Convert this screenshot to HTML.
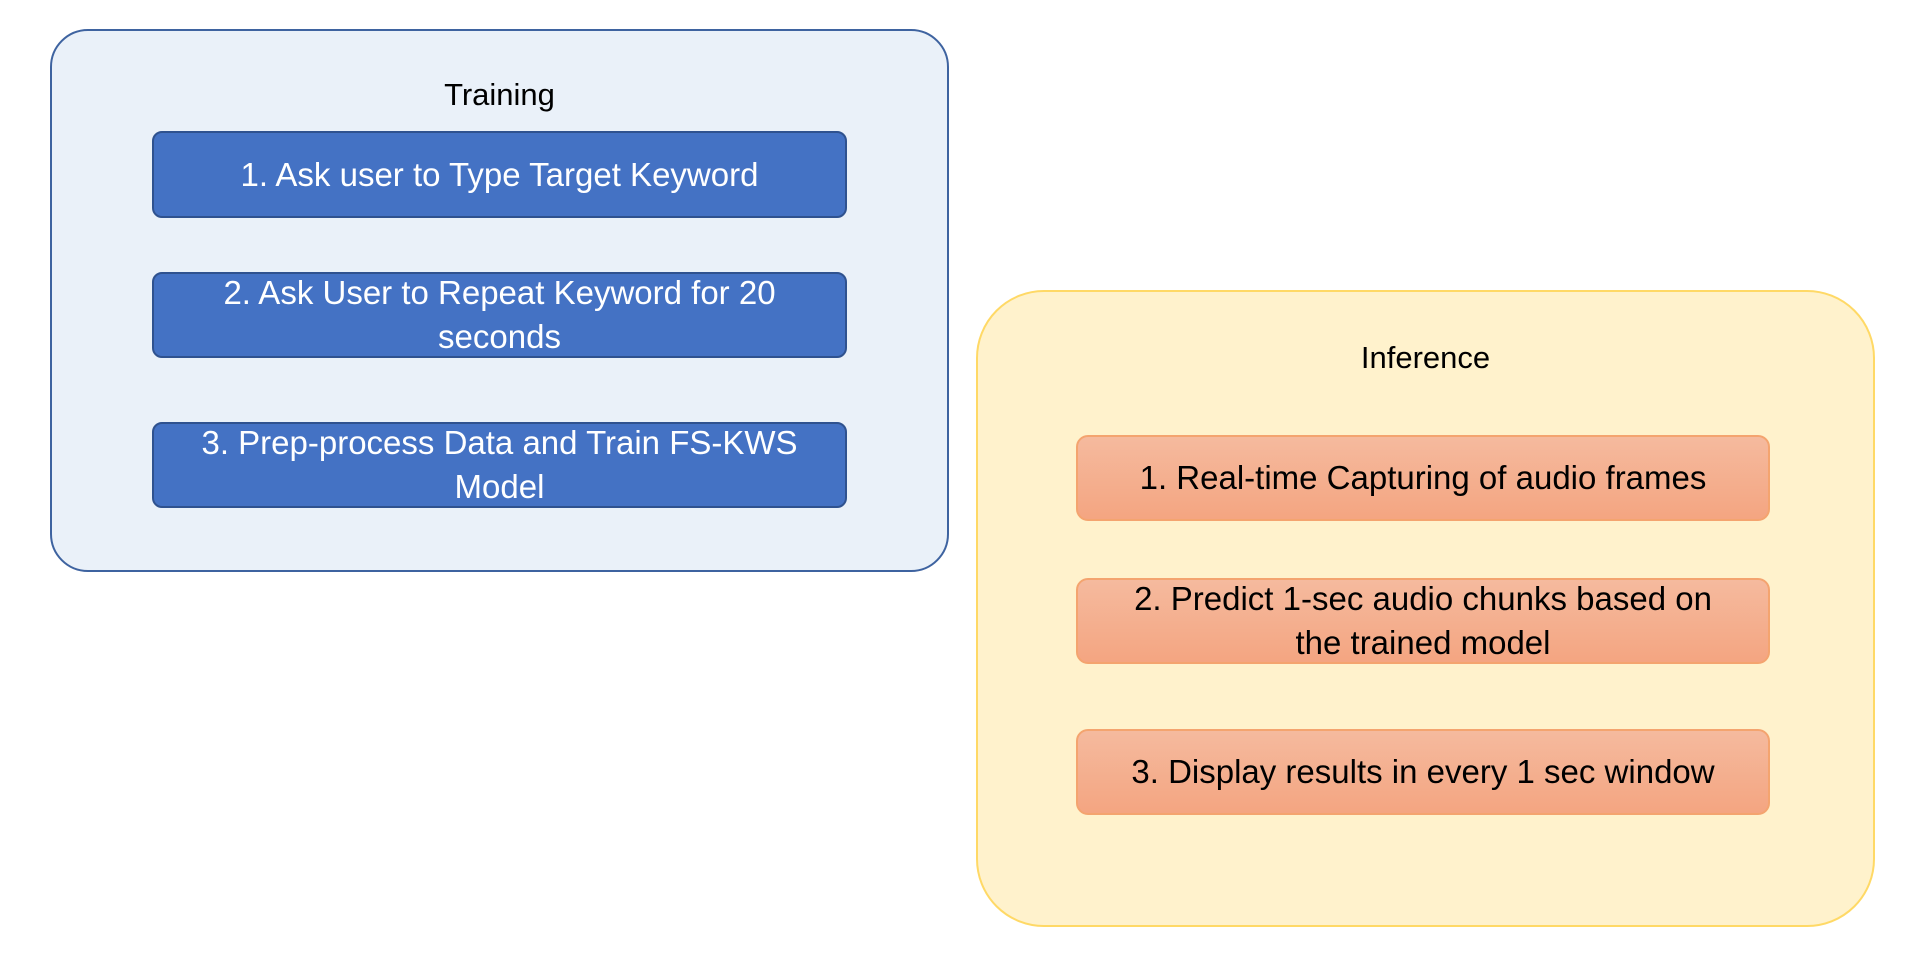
<!DOCTYPE html>
<html><head><meta charset="utf-8"><style>
body{margin:0;width:1926px;height:972px;background:#fff;position:relative;overflow:hidden;font-family:"Liberation Sans",sans-serif;}
div{position:absolute;box-sizing:border-box;}
.t{display:flex;align-items:center;justify-content:center;text-align:center;font-size:33px;line-height:44px;letter-spacing:0;white-space:nowrap;}
.b{background:#4472C4;border:2px solid #2F528F;border-radius:10px;color:#fff;}
.o{background:linear-gradient(#F5BA9E,#F4A581);border:2px solid #F4A46F;border-radius:12px;color:#000;}
</style></head><body>
<div style="left:50px;top:29px;width:899px;height:543px;background:#EAF1F9;border:2px solid #3E63A0;border-radius:38px;"></div>
<div class="t" style="left:50px;top:73px;width:899px;height:44px;color:#000;font-size:31px;">Training</div>
<div class="t b" style="left:152px;top:131px;width:695px;height:87px;">1. Ask user to Type Target Keyword</div>
<div class="t b" style="left:152px;top:272px;width:695px;height:86px;">2. Ask User to Repeat Keyword for 20<br>seconds</div>
<div class="t b" style="left:152px;top:422px;width:695px;height:86px;">3. Prep-process Data and Train FS-KWS<br>Model</div>

<div style="left:976px;top:290px;width:899px;height:637px;background:#FFF2CC;border:2px solid #FFD966;border-radius:68px;"></div>
<div class="t" style="left:976px;top:336px;width:899px;height:44px;color:#000;font-size:31px;">Inference</div>
<div class="t o" style="left:1076px;top:435px;width:694px;height:86px;">1. Real-time Capturing of audio frames</div>
<div class="t o" style="left:1076px;top:578px;width:694px;height:86px;">2. Predict 1-sec audio chunks based on<br>the trained model</div>
<div class="t o" style="left:1076px;top:729px;width:694px;height:86px;">3. Display results in every 1 sec window</div>
</body></html>
